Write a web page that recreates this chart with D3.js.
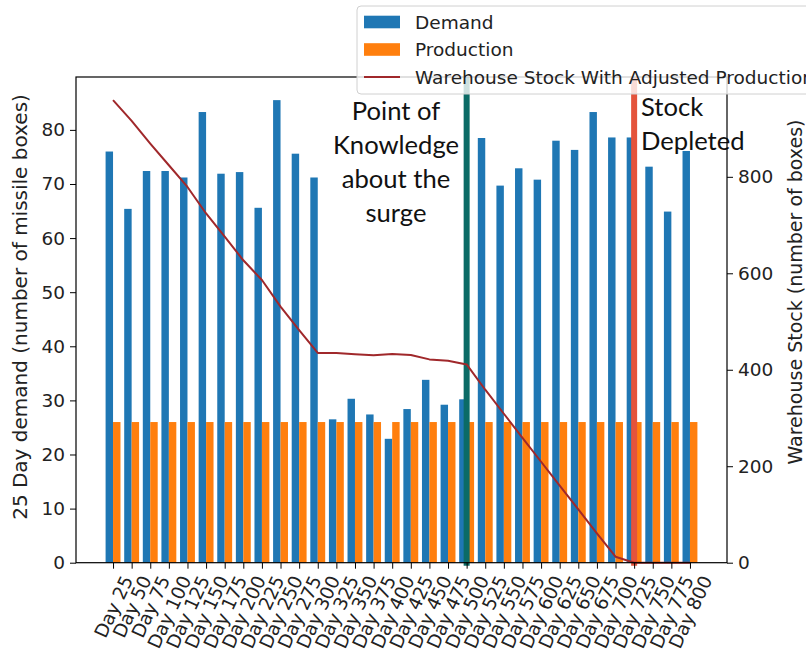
<!DOCTYPE html>
<html>
<head>
<meta charset="utf-8">
<script src="https://cdn.jsdelivr.net/npm/d3@7"></script>
<style>
  body { margin: 0; background: #fff; }
  svg { display: block; font-family: "DejaVu Sans", sans-serif; }
</style>
</head>
<body>
<svg id="chart" width="806" height="655"></svg>
<script>
// 25-day periods
const days = ["Day 25", "Day 50", "Day 75", "Day 100", "Day 125", "Day 150", "Day 175", "Day 200",
  "Day 225", "Day 250", "Day 275", "Day 300", "Day 325", "Day 350", "Day 375", "Day 400",
  "Day 425", "Day 450", "Day 475", "Day 500", "Day 525", "Day 550", "Day 575", "Day 600",
  "Day 625", "Day 650", "Day 675", "Day 700", "Day 725", "Day 750", "Day 775", "Day 800"];

// missile boxes demanded per 25 days
const demand = [76.0, 65.4, 72.4, 72.4, 71.2, 83.3, 71.9, 72.2, 65.6, 85.5, 75.6, 71.2,
  26.5, 30.3, 27.4, 22.9, 28.4, 33.8, 29.2, 30.2,
  78.5, 69.7, 72.9, 70.8, 78.0, 76.3, 83.3, 78.6, 78.6, 73.2, 64.9, 76.1];

// boxes produced per 25 days
const production = [26, 26, 26, 26, 26, 26, 26, 26, 26, 26, 26, 26, 26, 26, 26, 26,
  26, 26, 26, 26, 26, 26, 26, 26, 26, 26, 26, 26, 26, 26, 26, 26];

// boxes held in the warehouse
const stock = [959, 916, 869, 824, 779, 724, 676, 627, 586, 531, 482, 435,
  434.6, 432, 430, 432.5, 430.5, 421.5, 418.7, 411,
  358.6, 308.8, 259, 209.3, 159.6, 110.7, 60.9, 12.4, 0, 0, 0, 0];

const demandTicks = [0, 10, 20, 30, 40, 50, 60, 70, 80];
const stockTicks = [0, 200, 400, 600, 800];

const knowledgeDay = "Day 500";
const depletedDay = "Day 725";
const knowledgeNote = ["Point of", "Knowledge", "about the", "surge"];
const depletedNote = ["Stock", "Depleted"];

const seriesNames = ["Demand", "Production", "Warehouse Stock With Adjusted Production"];

// ---- layout ----
const box = { left: 76, right: 727, top: 77, bottom: 562.7 };
const FS = 18.5;       // tick and legend text
const TITLE_FS = 20;   // axis titles
const BLUE = "#1f77b4", ORANGE = "#ff7f0e", STOCK = "#a0282b";
const TEAL = "#0b6b66", RED = "#e4533b";
const BAR = 0.4;

const svg = d3.select("#chart");

const xi = d3.scaleLinear().domain([-0.4 - 1.59, days.length - 1 + 0.4 + 1.59]).range([box.left, box.right]);
const xCat = d3.scaleOrdinal().domain(days).range(days.map((d, i) => xi(i)));
const yL = d3.scaleLinear().domain([0, d3.max(demand) * 1.05]).range([box.bottom, box.top]);
const yR = d3.scaleLinear().domain([0, d3.max(stock) * 1.05]).range([box.bottom, box.top]);

// ---- bars ----
const bars = svg.append("g");
bars.selectAll("rect.demand").data(demand).join("rect")
  .attr("x", (d, i) => xi(i - BAR))
  .attr("width", (d, i) => xi(i) - xi(i - BAR))
  .attr("y", d => yL(d))
  .attr("height", d => yL(0) - yL(d))
  .attr("fill", BLUE);
bars.selectAll("rect.prod").data(production).join("rect")
  .attr("x", (d, i) => xi(i))
  .attr("width", (d, i) => xi(i + BAR) - xi(i))
  .attr("y", d => yL(d))
  .attr("height", d => yL(0) - yL(d))
  .attr("fill", ORANGE);

// ---- event markers ----
[[knowledgeDay, TEAL], [depletedDay, RED]].forEach(([day, col]) => {
  svg.append("line")
    .attr("x1", xCat(day)).attr("x2", xCat(day))
    .attr("y1", box.top).attr("y2", box.bottom + 3)
    .attr("stroke", col).attr("stroke-width", 6);
});

// ---- stock line ----
svg.append("path")
  .datum(stock)
  .attr("d", d3.line().x((d, i) => xi(i)).y(d => yR(d)))
  .attr("fill", "none").attr("stroke", STOCK).attr("stroke-width", 2)
  .attr("stroke-linejoin", "round");

// ---- notes ----
const noteFont = "Lato, 'Open Sans', sans-serif";
svg.append("g").selectAll("text").data(knowledgeNote).join("text")
  .attr("x", 396).attr("y", (d, i) => 119.5 + i * 34.3)
  .attr("text-anchor", "middle")
  .style("font-family", noteFont).style("font-size", "25.6px").attr("fill", "#111")
  .text(d => d);
svg.append("g").selectAll("text").data(depletedNote).join("text")
  .attr("x", 641).attr("y", (d, i) => 115.5 + i * 34)
  .style("font-family", noteFont).style("font-size", "25.6px").attr("fill", "#111")
  .text(d => d);

// ---- axes ----
function styleAxis(g) {
  g.select(".domain").remove();
  g.selectAll("line").attr("stroke", "#000").attr("stroke-width", 1);
  g.selectAll("text").attr("fill", "#222").style("font-size", FS + "px")
    .style("font-family", "'DejaVu Sans', sans-serif");
}

svg.append("g").attr("transform", `translate(${box.left},0)`)
  .call(d3.axisLeft(yL).tickValues(demandTicks).tickSize(6).tickPadding(5).tickFormat(d3.format("d")))
  .call(styleAxis);

svg.append("g").attr("transform", `translate(${box.right},0)`)
  .call(d3.axisRight(yR).tickValues(stockTicks).tickSize(6).tickPadding(5).tickFormat(d3.format("d")))
  .call(styleAxis);

const xAxis = svg.append("g").attr("transform", `translate(0,${box.bottom})`)
  .call(d3.axisBottom(xCat).tickSize(6).tickPadding(5))
  .call(styleAxis);

// slanted category labels, each centred under its tick
const ang = 65 * Math.PI / 180;
xAxis.selectAll(".tick text").each(function () {
  const t = d3.select(this);
  t.attr("y", null).attr("dy", null)
    .attr("text-anchor", "middle").attr("dominant-baseline", "central");
  const L = this.getComputedTextLength();
  const h = FS * 1.05;
  const hb = L * Math.sin(ang) + h * Math.cos(ang);
  t.attr("transform", `translate(0,${6 + 4 + hb / 2}) rotate(-65)`);
});

// axis titles
svg.append("text")
  .attr("transform", "translate(20,307) rotate(-90)")
  .attr("text-anchor", "middle").attr("dominant-baseline", "central")
  .style("font-size", TITLE_FS + "px").attr("fill", "#222")
  .text("25 Day demand (number of missile boxes)");
svg.append("text")
  .attr("transform", "translate(795,292) rotate(-90)")
  .attr("text-anchor", "middle").attr("dominant-baseline", "central")
  .style("font-size", "19px").attr("fill", "#222")
  .text("Warehouse Stock (number of boxes)");

// frame
svg.append("rect")
  .attr("x", box.left).attr("y", box.top)
  .attr("width", box.right - box.left).attr("height", box.bottom - box.top)
  .attr("fill", "none").attr("stroke", "#000").attr("stroke-width", 1.2);

// ---- legend ----
const lg = svg.append("g").attr("transform", "translate(357,6)");
lg.append("rect").attr("width", 520).attr("height", 88).attr("rx", 4)
  .attr("fill", "#fff").attr("fill-opacity", 0.8)
  .attr("stroke", "#d0d0d0").attr("stroke-width", 1);
const rowY = [16, 43.5, 71];
lg.append("rect").attr("x", 7).attr("y", rowY[0] - 6.3).attr("width", 36).attr("height", 12.6).attr("fill", BLUE);
lg.append("rect").attr("x", 7).attr("y", rowY[1] - 6.3).attr("width", 36).attr("height", 12.6).attr("fill", ORANGE);
lg.append("line").attr("x1", 7).attr("x2", 43).attr("y1", rowY[2]).attr("y2", rowY[2])
  .attr("stroke", STOCK).attr("stroke-width", 2);
lg.selectAll("text.lab").data(seriesNames).join("text")
  .attr("x", 58).attr("y", (d, i) => rowY[i])
  .attr("dominant-baseline", "central")
  .style("font-size", FS + "px").attr("fill", "#222")
  .text(d => d);
</script>
</body>
</html>
